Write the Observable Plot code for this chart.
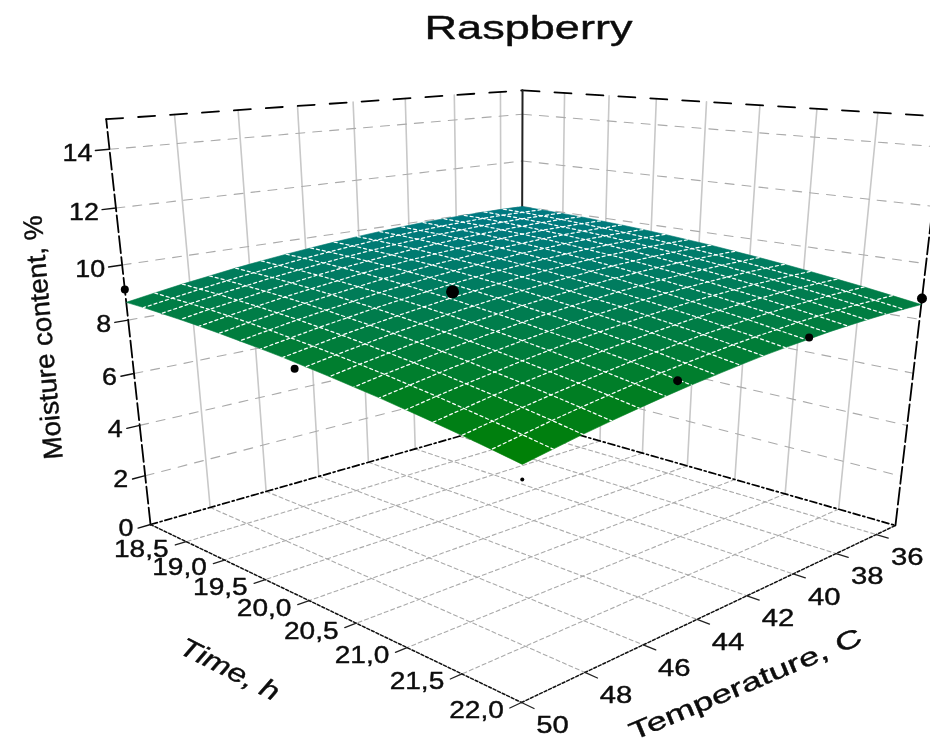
<!DOCTYPE html>
<html><head><meta charset="utf-8">
<script src="https://cdn.jsdelivr.net/npm/d3@7"></script>
<script src="https://cdn.jsdelivr.net/npm/@observablehq/plot@0.6"></script>
<style>html,body{margin:0;padding:0;background:#fff;overflow:hidden} #chart svg{filter:blur(0.65px)}</style>
</head><body><div id="chart"></div>
<script>
const titleText = "Raspberry";
const timeTicks = [18.5,19,19.5,20,20.5,21,21.5,22];
const tempTicks = [36,38,40,42,44,46,48,50];
const moistTicks = [0,2,4,6,8,10,12,14];
const timeDomain = [18,22], tempDomain = [35,50], moistDomain = [0,15];
// measured points hidden by the surface, then points in front of it
const pointsBelow = [
  {time:20,temp:50,m:8.04},
  {time:22,temp:50,m:6.83}
];
const pointsAbove = [
  {time:18,temp:50,m:9.12},
  {time:20,temp:45,m:9.5},
  {time:22,temp:45.2,m:8.34},
  {time:22,temp:40.2,m:8.51},
  {time:22,temp:35,m:8.76}
];
// surface heights: rows run from temperature 35 to 50, columns from time 18 to 22
const moisture = [
[10.00,9.98,9.95,9.92,9.87,9.82,9.76,9.69,9.61,9.53,9.43,9.33,9.22,9.10,8.97,8.84,8.69,8.54],
[10.01,9.99,9.96,9.93,9.88,9.83,9.77,9.70,9.62,9.54,9.44,9.34,9.23,9.11,8.98,8.85,8.70,8.55],
[10.01,9.99,9.96,9.93,9.88,9.83,9.77,9.70,9.62,9.54,9.44,9.34,9.23,9.11,8.99,8.85,8.71,8.56],
[9.99,9.98,9.95,9.91,9.87,9.82,9.76,9.69,9.61,9.53,9.43,9.33,9.22,9.10,8.98,8.84,8.70,8.55],
[9.97,9.95,9.93,9.89,9.85,9.80,9.74,9.67,9.59,9.51,9.41,9.31,9.20,9.08,8.96,8.82,8.68,8.53],
[9.94,9.92,9.89,9.86,9.81,9.76,9.70,9.63,9.56,9.47,9.38,9.28,9.17,9.05,8.92,8.79,8.65,8.50],
[9.89,9.87,9.85,9.81,9.77,9.72,9.66,9.59,9.51,9.43,9.34,9.23,9.13,9.01,8.88,8.75,8.60,8.45],
[9.83,9.82,9.79,9.75,9.71,9.66,9.60,9.53,9.46,9.37,9.28,9.18,9.07,8.95,8.83,8.69,8.55,8.40],
[9.76,9.75,9.72,9.69,9.64,9.59,9.53,9.47,9.39,9.31,9.21,9.11,9.01,8.89,8.76,8.63,8.49,8.34],
[9.68,9.67,9.64,9.61,9.57,9.52,9.46,9.39,9.31,9.23,9.14,9.04,8.93,8.81,8.69,8.55,8.41,8.26],
[9.59,9.58,9.55,9.52,9.48,9.43,9.37,9.30,9.22,9.14,9.05,8.95,8.84,8.72,8.60,8.47,8.32,8.17],
[9.49,9.48,9.45,9.42,9.38,9.33,9.27,9.20,9.13,9.04,8.95,8.85,8.74,8.63,8.50,8.37,8.23,8.08],
[9.38,9.36,9.34,9.31,9.26,9.21,9.16,9.09,9.01,8.93,8.84,8.74,8.63,8.52,8.39,8.26,8.12,7.97],
[9.26,9.24,9.22,9.18,9.14,9.09,9.03,8.97,8.89,8.81,8.72,8.62,8.51,8.40,8.27,8.14,8.00,7.85],
[9.12,9.11,9.08,9.05,9.01,8.96,8.90,8.83,8.76,8.68,8.59,8.49,8.38,8.26,8.14,8.01,7.87,7.72],
[8.98,8.96,8.94,8.90,8.86,8.81,8.76,8.69,8.62,8.53,8.44,8.34,8.24,8.12,8.00,7.87,7.73,7.58],
[8.82,8.80,8.78,8.75,8.71,8.66,8.60,8.53,8.46,8.38,8.29,8.19,8.08,7.97,7.84,7.71,7.57,7.42],
[8.65,8.64,8.61,8.58,8.54,8.49,8.43,8.37,8.30,8.21,8.12,8.02,7.92,7.80,7.68,7.55,7.41,7.26]
];
const N = moisture.length-1;

// perspective camera: data (time, temperature, moisture) to picture position
const project=(time,temp,m)=>{
  const s=(time-timeDomain[0])/(timeDomain[1]-timeDomain[0]),
        t=(temp-tempDomain[0])/(tempDomain[1]-tempDomain[0]),
        c=m/moistDomain[1];
  const w=1-.2032*s-.1968*t-.088*c;
  return [(521+192.1*s-400.5*t-44.9*c)/w,(418+.3*s+2.9*t-336*c)/w];
};
const P=(time,temp,m)=>{const [x,y]=project(time,temp,m);return {x,y};};
const [T0,T1]=timeDomain,[C0,C1]=tempDomain,[M0,M1]=moistDomain;
const seg=(list)=>list.flatMap((pts,g)=>pts.map(p=>({...P(...p),g})));
const timeAt=i=>T0+(T1-T0)*i/N, tempAt=j=>C0+(C1-C0)*j/N;

const mline=(pts,o)=>Plot.line(seg(pts),{x:"x",y:"y",z:"g",curve:"linear",...o});

const wallV=[...tempTicks.filter(d=>d<C1).map(d=>[[T0,d,M0],[T0,d,M1]]),...timeTicks.filter(d=>d<T1).map(d=>[[d,C0,M0],[d,C0,M1]])];
const wallH=moistTicks.filter(d=>d>0).flatMap(d=>[[[T0,C1,d],[T0,C0,d]],[[T0,C0,d],[T1,C0,d]]]);
const floorG=[...tempTicks.filter(d=>d<C1).map(d=>[[T0,d,M0],[T1,d,M0]]),...timeTicks.filter(d=>d<T1).map(d=>[[d,C0,M0],[d,C1,M0]])];
const cells=[];
moisture.forEach((row,j)=>{ if(j==N) return; row.forEach((v,i)=>{ if(i==N) return;
  const mean=(v+row[i+1]+moisture[j+1][i]+moisture[j+1][i+1])/4, id=j*100+i;
  [[i,j],[i+1,j],[i+1,j+1],[i,j+1],[i,j]].forEach(([a,b])=>cells.push({...P(timeAt(a),tempAt(b),moisture[b][a]),id,mean}));
});});
const meshLines=[];
for(let j=1;j<N;j++) meshLines.push(d3.range(N+1).map(i=>[timeAt(i),tempAt(j),moisture[j][i]]));
for(let i=1;i<N;i++) meshLines.push(d3.range(N+1).map(j=>[timeAt(i),tempAt(j),moisture[j][i]]));
const dot=(d,r)=>Plot.dot([P(d.time,d.temp,d.m)],{x:"x",y:"y",r,fill:"#000"});
const labels=(vals,f,fmt)=>vals.map(v=>({...P(...f(v)),text:fmt(v)}));
const comma=v=>v.toFixed(1).replace(".",",");
const font="Liberation Sans, Arial, sans-serif", ink="#0c0c0c";
const textStyle={fontFamily:font,fill:ink,stroke:ink,strokeWidth:.4};

const plot=Plot.plot({
  width:930,height:740,margin:0,
  x:{type:"identity",axis:null},y:{type:"identity",axis:null},
  color:{type:"linear",domain:[7.26,10],range:["#008000","#007a82"],interpolate:"rgb"},
  style:{background:"#fff"},
  marks:[
    mline(wallV,{stroke:"#c8c8c8",strokeWidth:1.6}),
    mline(wallH,{stroke:"#aaa",strokeWidth:1.1,strokeDasharray:"9 8"}),
    mline(floorG,{stroke:"#aaa",strokeWidth:1.1,strokeDasharray:"4 3"}),
    mline([[[T0,C1,M0],[T0,C0,M0]],[[T0,C0,M0],[T1,C0,M0]]],{stroke:"#000",strokeWidth:1.7,strokeDasharray:"7 3 2 3"}),
    mline([[[T0,C1,M0],[T1,C1,M0]],[[T1,C1,M0],[T1,C0,M0]]],{stroke:"#111",strokeWidth:1.5,strokeDasharray:"3 2"}),
    mline([[[T0,C1,M0],[T0,C1,M1]],[[T1,C0,M0],[T1,C0,M1]]],{stroke:"#000",strokeWidth:1.8,strokeDasharray:"17 4"}),
    mline([[[T0,C1,M1],[T0,C0,M1]],[[T0,C0,M1],[T1,C0,M1]]],{stroke:"#000",strokeWidth:1.8,strokeDasharray:"17 15"}),
    mline([[[T0,C0,M0],[T0,C0,M1]]],{stroke:"#222",strokeWidth:2}),
    mline(moistTicks.map(d=>[[T0,C1,d],[T0,C1+0.4,d]]),{stroke:"#111",strokeWidth:1.4}),
    mline(timeTicks.map(d=>[[d,C1,M0],[d,C1+0.35,M0]]),{stroke:"#222",strokeWidth:1.3}),
    mline(tempTicks.map(d=>[[T1,d,M0],[T1+0.1,d,M0]]),{stroke:"#222",strokeWidth:1.3}),
    dot(pointsBelow[0],4),
    dot(pointsBelow[1],2),
    Plot.line(cells,{x:"x",y:"y",z:"id",fill:"mean",stroke:"mean",strokeWidth:.6,curve:"linear"}),
    mline(meshLines,{stroke:"#fff",strokeWidth:1.25,strokeDasharray:"3 3"}),
    dot(pointsAbove[0],4),
    dot(pointsAbove[1],6.5),
    dot(pointsAbove[2],4.5),
    dot(pointsAbove[3],4),
    dot(pointsAbove[4],5),
    Plot.text(labels(moistTicks,v=>[T0,C1,v],String),{x:"x",y:"y",text:"text",className:"zt",dx:-17,dy:4,textAnchor:"end",fontSize:24,...textStyle}),
    Plot.text(labels(timeTicks,v=>[v,C1,M0],comma),{x:"x",y:"y",text:"text",className:"xt",dx:-45,dy:8,fontSize:23,...textStyle}),
    Plot.text(labels(tempTicks,v=>[T1,v,M0],String),{x:"x",y:"y",text:"text",className:"xt",dx:31,dy:23,fontSize:24,...textStyle}),
    Plot.text([{x:528,y:28,t:titleText}],{x:"x",y:"y",text:"t",className:"ttl",fontSize:33,...textStyle}),
    Plot.text([{x:43,y:337,t:"Moisture content, %"}],{x:"x",y:"y",text:"t",className:"ymt",rotate:-95,fontSize:27,...textStyle}),
    Plot.text([{x:229,y:669,t:"Time, h"}],{x:"x",y:"y",text:"t",className:"tmt",rotate:27,fontStyle:"italic",fontSize:26,...textStyle}),
    Plot.text([{x:745,y:684,t:"Temperature, C"}],{x:"x",y:"y",text:"t",className:"tpt",rotate:-23,fontSize:25,...textStyle})
  ]
});
document.getElementById("chart").append(plot);
const fit={zt:1.12,xt:1.22};
const widths={ttl:208,ymt:245,tmt:108,tpt:250};
plot.querySelectorAll("text").forEach(el=>{
  const g=el.closest("g"); const cls=g?g.getAttribute("class")||"":"";
  const key=Object.keys({...fit,...widths}).find(k=>cls.includes(k)); if(!key) return;
  const L=widths[key]||el.getComputedTextLength()*fit[key];
  el.setAttribute("textLength",L); el.setAttribute("lengthAdjust","spacingAndGlyphs");
});
</script></body></html>
